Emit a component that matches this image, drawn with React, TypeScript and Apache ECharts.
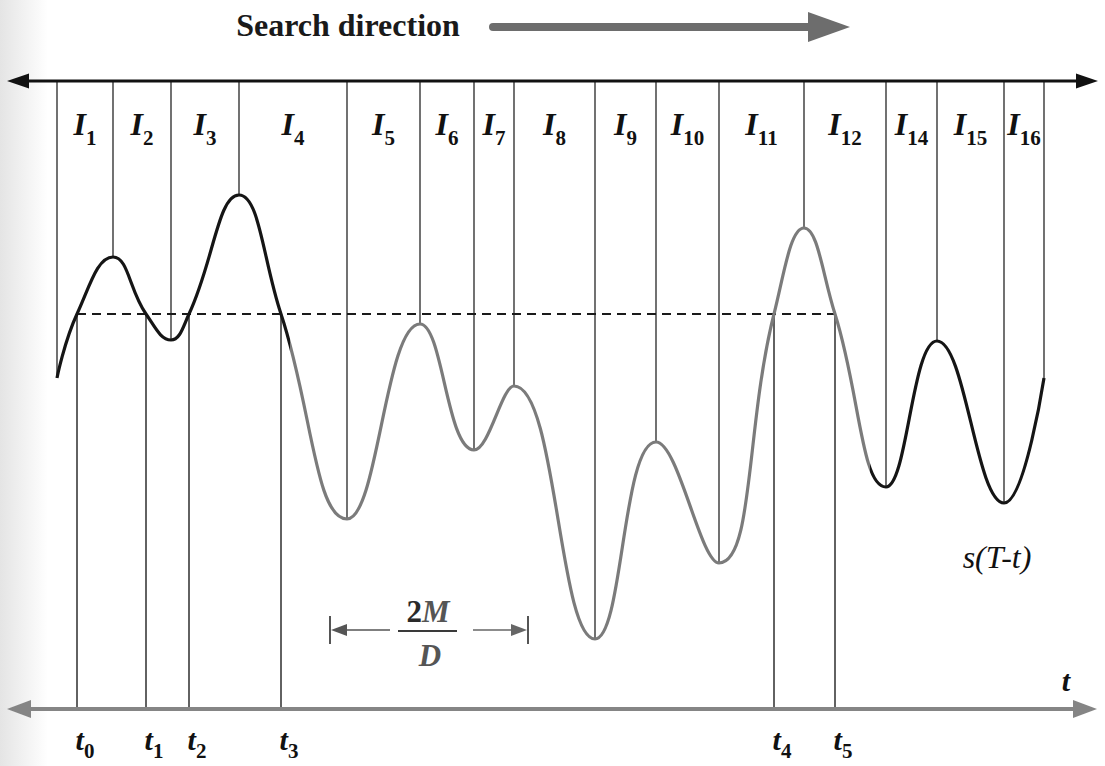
import React, { useEffect, useRef } from 'react';
import * as echarts from 'echarts';

// Local extrema of s(T-t): time position and amplitude (threshold level = 0)
const EXTREMA_T = [57, 113, 171, 239, 347, 420, 474, 514, 595, 656, 719, 804, 886, 937, 1004, 1044];
const EXTREMA_S = [-0.64, 0.57, -0.26, 1.19, -2.05, -0.1, -1.36, -0.72, -3.25, -1.28, -2.49, 0.86, -1.73, -0.27, -1.89, -0.64];

// Times where the signal crosses the threshold (t0 ... t5)
const CROSSING_T = [77, 146, 189, 281, 774, 835];
const CROSSING_SUBS = ['0', '1', '2', '3', '4', '5'];

// Interval names between neighbouring extrema
const INTERVAL_SUBS = ['1', '2', '3', '4', '5', '6', '7', '8', '9', '10', '11', '12', '14', '15', '16'];

const THRESHOLD = 0;
// Extent of the 2M/D dimension marker
const SPAN_2M_D = [330, 528];

// ---- layout (in axis units) ----
const T_MIN = 0;
const T_MAX = 1105;
const S_MIN = -4.52;
const S_MAX = 3.14;
const TOP_AXIS = 2.33;
const BOTTOM_AXIS = -3.95;
const SEARCH_LEVEL = 2.87;
const SEARCH_TEXT_LEVEL = 2.89;
const INTERVAL_LABEL_LEVEL = 1.9;
const CROSS_LABEL_LEVEL = -4.25;
const MARKER_LEVEL = -3.16;

const SERIF = '"Liberation Serif", "DejaVu Serif", serif';

// merged point list of the curve, ordered in time
const curvePoints: number[][] = [
  ...EXTREMA_T.map((t, i) => [t, EXTREMA_S[i]]),
  ...CROSSING_T.map((t) => [t, THRESHOLD]),
].sort((a, b) => a[0] - b[0]);

type ArrowSpec = {
  from: number;
  to: number;
  level: number;
  both: boolean;
  headLen: number;
  headHalf: number;
  width: number;
  color: string;
  cap?: 'round' | 'butt';
};

const ARROWS: ArrowSpec[] = [
  { from: 7, to: 1098, level: TOP_AXIS, both: true, headLen: 22, headHalf: 7.5, width: 3, color: '#111' },
  { from: 7, to: 1097, level: BOTTOM_AXIS, both: true, headLen: 24, headHalf: 9, width: 4, color: '#858585' },
  { from: 493, to: 850, level: SEARCH_LEVEL, both: false, headLen: 42, headHalf: 15, width: 8, color: '#6d6d6d', cap: 'round' },
  { from: 390, to: SPAN_2M_D[0] + 1, level: MARKER_LEVEL, both: false, headLen: 16, headHalf: 6, width: 1.6, color: '#555' },
  { from: 473, to: SPAN_2M_D[1] - 1, level: MARKER_LEVEL, both: false, headLen: 16, headHalf: 6, width: 1.6, color: '#666' },
];

function headPoints(tip: number[], dir: number, len: number, half: number) {
  return [
    [tip[0], tip[1]],
    [tip[0] - dir * len, tip[1] - half],
    [tip[0] - dir * len, tip[1] + half],
  ];
}

const subRich = (italicSize: number, subSize: number, pad: number, color = '#111') => ({
  i: { fontSize: italicSize, fontFamily: SERIF, fontStyle: 'italic', fontWeight: 'bold', fill: color },
  n: { fontSize: subSize, fontFamily: SERIF, fontWeight: 'bold', fill: color, padding: [pad, 0, 0, 0] },
});

type TextSpec = { t: number; s: number; style: any };

const intervalMid = INTERVAL_SUBS.map((_, i) => (EXTREMA_T[i] + EXTREMA_T[i + 1]) / 2);

const TEXTS: TextSpec[] = [
  {
    t: 348,
    s: SEARCH_TEXT_LEVEL,
    style: { text: 'Search direction', fontSize: 32, fontFamily: SERIF, fontWeight: 'bold', fill: '#1a1a1a' },
  },
  ...INTERVAL_SUBS.map((sub, i) => ({
    t: intervalMid[i],
    s: INTERVAL_LABEL_LEVEL,
    style: { text: `{i|I}{n|${sub}}`, rich: subRich(32, 21, 28) },
  })),
  ...CROSSING_SUBS.map((sub, i) => ({
    t: CROSSING_T[i] + 8,
    s: CROSS_LABEL_LEVEL,
    style: { text: `{i|t}{n|${sub}}`, rich: subRich(30, 21, 24) },
  })),
  {
    t: 1066,
    s: -3.66,
    style: { text: 't', fontSize: 30, fontFamily: SERIF, fontStyle: 'italic', fontWeight: 'bold', fill: '#111' },
  },
  {
    t: 997,
    s: -2.43,
    style: { text: 's(T-t)', fontSize: 32, fontFamily: SERIF, fontStyle: 'italic', fill: '#111' },
  },
  {
    t: 428,
    s: -2.97,
    style: {
      text: '{a|2}{b|M}',
      rich: {
        a: { fontSize: 31, fontFamily: SERIF, fontWeight: 'bold', fill: '#2a2a2a' },
        b: { fontSize: 31, fontFamily: SERIF, fontWeight: 'bold', fontStyle: 'italic', fill: '#555' },
      },
    },
  },
  {
    t: 430,
    s: -3.41,
    style: { text: 'D', fontSize: 31, fontFamily: SERIF, fontStyle: 'italic', fontWeight: 'bold', fill: '#555' },
  },
];

function buildOption(): echarts.EChartsOption {
  return {
    animation: false,
    backgroundColor: '#fff',
    grid: { left: 0, right: 0, top: 0, bottom: 0, containLabel: false },
    xAxis: { type: 'value', min: T_MIN, max: T_MAX, show: false },
    yAxis: { type: 'value', min: S_MIN, max: S_MAX, show: false },
    visualMap: {
      show: false,
      type: 'piecewise',
      dimension: 0,
      seriesIndex: 0,
      pieces: [
        { lt: 290, color: '#151515' },
        { gte: 290, lt: 870, color: '#7b7b7b' },
        { gte: 870, color: '#151515' },
      ],
    },
    graphic: [
      {
        type: 'rect',
        left: 0,
        top: 0,
        shape: { width: 48, height: 766 },
        silent: true,
        z: -10,
        style: {
          fill: new echarts.graphic.LinearGradient(0, 0, 1, 0, [
            { offset: 0, color: 'rgba(160,160,160,0.28)' },
            { offset: 1, color: 'rgba(160,160,160,0)' },
          ]),
        },
      },
    ],
    series: [
      {
        type: 'line',
        name: 's(T-t)',
        data: curvePoints,
        smooth: 0.45,
        symbol: 'none',
        lineStyle: { width: 3.2 },
        z: 5,
      },
      {
        type: 'line',
        name: 'threshold',
        data: [
          [CROSSING_T[0], THRESHOLD],
          [CROSSING_T[CROSSING_T.length - 1], THRESHOLD],
        ],
        symbol: 'none',
        lineStyle: { color: '#1a1a1a', width: 2, type: [9, 6] },
        z: 4,
      },
      {
        type: 'custom',
        name: 'extrema markers',
        data: EXTREMA_T.map((t, i) => [t, EXTREMA_S[i]]),
        z: 2,
        renderItem: (params: any, api: any) => {
          const a = api.coord([api.value(0), TOP_AXIS]);
          const b = api.coord([api.value(0), api.value(1)]);
          return {
            type: 'line',
            shape: { x1: a[0], y1: a[1], x2: b[0], y2: b[1] },
            style: { stroke: '#262626', lineWidth: 1.3 },
          };
        },
      } as any,
      {
        type: 'custom',
        name: 'crossing markers',
        data: CROSSING_T.map((t) => [t, THRESHOLD]),
        z: 2,
        renderItem: (params: any, api: any) => {
          const a = api.coord([api.value(0), BOTTOM_AXIS]);
          const b = api.coord([api.value(0), api.value(1)]);
          return {
            type: 'line',
            shape: { x1: a[0], y1: a[1], x2: b[0], y2: b[1] },
            style: { stroke: '#2e2e2e', lineWidth: 1.5 },
          };
        },
      } as any,
      {
        type: 'custom',
        name: 'span bars',
        data: SPAN_2M_D.map((t) => [t, MARKER_LEVEL]),
        z: 3,
        renderItem: (params: any, api: any) => {
          const a = api.coord([api.value(0), MARKER_LEVEL + 0.14]);
          const b = api.coord([api.value(0), MARKER_LEVEL - 0.14]);
          return {
            type: 'line',
            shape: { x1: a[0], y1: a[1], x2: b[0], y2: b[1] },
            style: { stroke: '#555', lineWidth: 2 },
          };
        },
      } as any,
      {
        type: 'custom',
        name: 'fraction bar',
        data: [[398, MARKER_LEVEL]],
        z: 3,
        renderItem: (params: any, api: any) => {
          const a = api.coord([398, MARKER_LEVEL - 0.01]);
          const b = api.coord([457, MARKER_LEVEL - 0.01]);
          return {
            type: 'line',
            shape: { x1: a[0], y1: a[1], x2: b[0], y2: b[1] },
            style: { stroke: '#3a3a3a', lineWidth: 2 },
          };
        },
      } as any,
      {
        type: 'custom',
        name: 'arrows',
        data: ARROWS.map((a) => [a.from, a.level]),
        z: 6,
        renderItem: (params: any, api: any) => {
          const spec = ARROWS[params.dataIndex];
          const p0 = api.coord([spec.from, spec.level]);
          const p1 = api.coord([spec.to, spec.level]);
          const dir = p1[0] >= p0[0] ? 1 : -1;
          const children: any[] = [];
          const sx1 = spec.both ? p0[0] + dir * (spec.headLen - 2) : p0[0];
          const sx2 = p1[0] - dir * (spec.headLen - 2);
          children.push({
            type: 'line',
            shape: { x1: sx1, y1: p0[1], x2: sx2, y2: p1[1] },
            style: { stroke: spec.color, lineWidth: spec.width, lineCap: spec.cap || 'butt' },
          });
          children.push({
            type: 'polygon',
            shape: { points: headPoints(p1, dir, spec.headLen, spec.headHalf) },
            style: { fill: spec.color },
          });
          if (spec.both) {
            children.push({
              type: 'polygon',
              shape: { points: headPoints(p0, -dir, spec.headLen, spec.headHalf) },
              style: { fill: spec.color },
            });
          }
          return { type: 'group', children };
        },
      } as any,
      {
        type: 'custom',
        name: 'texts',
        data: TEXTS.map((x) => [x.t, x.s]),
        z: 8,
        renderItem: (params: any, api: any) => {
          const spec = TEXTS[params.dataIndex];
          const p = api.coord([spec.t, spec.s]);
          return {
            type: 'text',
            x: p[0],
            y: p[1],
            style: { ...spec.style, align: 'center', verticalAlign: 'middle' },
          };
        },
      } as any,
    ],
  };
}

export default function App() {
  const ref = useRef<HTMLDivElement>(null);
  useEffect(() => {
    if (!ref.current) return;
    const chart = echarts.init(ref.current, null, { renderer: 'svg' });
    chart.setOption(buildOption());
    return () => chart.dispose();
  }, []);
  return (
    <div
      ref={ref}
      style={{ position: 'fixed', left: 0, top: 0, width: 1105, height: 766, background: '#fff' }}
    />
  );
}
